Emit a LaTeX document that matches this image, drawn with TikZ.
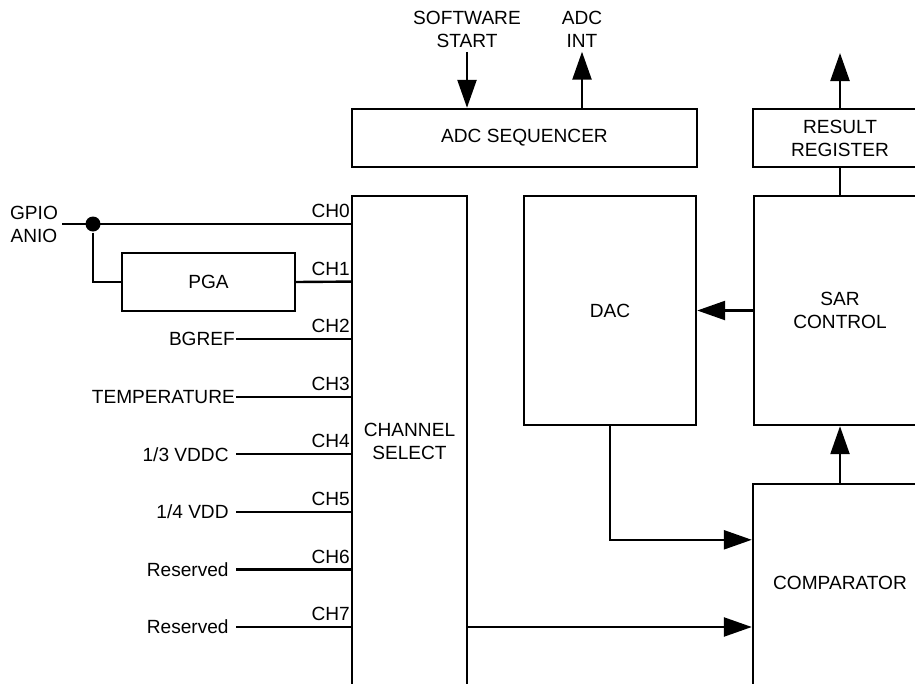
\documentclass[tikz,border=0pt]{standalone}
\usepackage{fontspec}
\setmainfont{Liberation Sans}
\usepackage{tikz}
\usetikzlibrary{arrows.meta}

\begin{document}
\begin{tikzpicture}[x=1pt,y=-1pt,line width=2.4pt,font=\fontsize{19.1}{23}\selectfont,
  blk/.style={draw,align=center,inner sep=0pt},
  sig/.style={-{Triangle[length=28pt,width=19pt]}}]
  \useasboundingbox (0,0) rectangle (915,683);
  \clip (0,0) rectangle (915,683);
  \node[blk,minimum width=345,minimum height=58] (seq) at (524.5,138) {ADC SEQUENCER};
  \node[blk,minimum width=174,minimum height=58] (res) at (840,138) {RESULT\\REGISTER};
  \node[blk,minimum width=115,minimum height=490] (chsel) at (409.5,441) {CHANNEL\\SELECT};
  \node[blk,minimum width=172,minimum height=229] (dac) at (610,310.5) {DAC};
  \node[blk,minimum width=172,minimum height=229] (sar) at (840,310.5) {SAR\\CONTROL};
  \node[blk,minimum width=174,minimum height=216] (cmp) at (840,592) {};
  \node (cmptxt) at (840,583) {COMPARATOR};
  \node[align=center] (swst) at (467,29) {SOFTWARE\\START};
  \node[align=center] (adcint) at (582,29) {ADC\\INT};
  \coordinate (resout) at (840,53);
  \draw[sig] (swst.south) -- (swst.south |- seq.north);
  \draw[sig] (seq.north -| adcint) -- (adcint.south);
  \draw[sig] (res.north) -- (resout);
  \draw (res.south) -- (sar.north);
  \draw[sig] (sar.west) -- (dac.east);
  \draw[sig] (cmp.north) -- (sar.south);
  \draw[sig] (dac.south) |- ([yshift=-57pt]cmp.north west);
  \foreach \i in {0,...,7}{
    \coordinate (pin\i) at (352,{224+57.57*\i});
    \node[anchor=south east,inner xsep=1pt,inner ysep=5pt] (chl\i) at (pin\i) {CH\i};
  }
  \draw[sig] (chsel.east |- pin7) -- (cmp.west |- pin7);
  \node[align=center] (gpio) at (34,224) {GPIO\\ANIO};
  \node[fill,circle,inner sep=0pt,minimum size=15] (tap) at (93,224) {};
  \node[blk,minimum width=173,minimum height=58] (pga) at (208.5,282) {PGA};
  \draw (gpio.east) -- (pin0);
  \draw (tap) |- (pga.west);
  \draw (pga.east) -- (pin1);
  \foreach \src/\sep [count=\i from 2] in {BGREF/0,TEMPERATURE/0,{1/3 VDDC}/6.2,{1/4 VDD}/6.2,Reserved/6.2,Reserved/6.2}{
    \node[anchor=east,inner xsep=\sep pt] (src\i) at (236,{224+57.57*\i}) {\src};
    \draw (src\i.east) -- (pin\i);
  }
\end{tikzpicture}
\end{document}
